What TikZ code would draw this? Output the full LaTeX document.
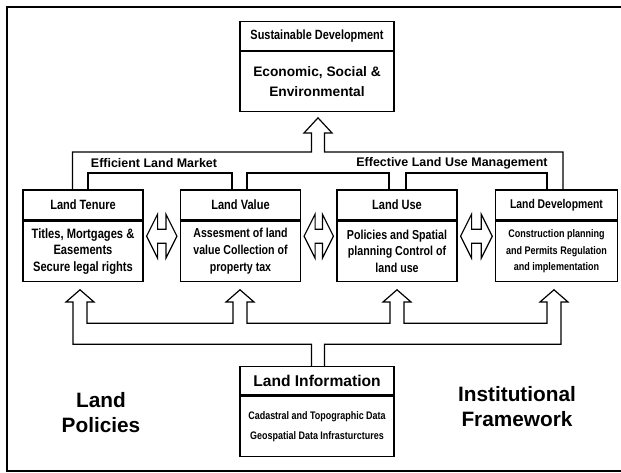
\documentclass[tikz,border=0pt]{standalone}
\usepackage{fontspec}
\setmainfont{Liberation Sans}
\newfontfamily\narrowfont{Liberation Sans}[FakeStretch=0.82]
\usepackage{tikz}
\usetikzlibrary{calc}
\usetikzlibrary{positioning}
\tikzset{
  head/.style={% Style for the title part of a box
      rectangle, line width=0.9pt,
      draw=black,
      inner sep=0pt,
      align=center,
      minimum width=90pt,
      minimum height=22.5pt,
      font=\narrowfont\bfseries\fontsize{10.1}{12}\selectfont,
  },
  body/.style={% Style for the text part of a box
      rectangle, line width=0.9pt,
      draw=black,
      inner sep=0pt,
      align=center,
      minimum width=90pt,
      minimum height=45pt,
      font=\narrowfont\bfseries\fontsize{10}{12.5}\selectfont,
  },
  fork/.style={line width=0.9pt, line join=miter},
  frame/.style={line width=1.8pt},
  label/.style={font=\bfseries\fontsize{9.35}{11}\selectfont},
  side/.style={align=center, font=\bfseries\fontsize{15.6}{18.75}\selectfont}
}
\def\landbox(#1)#2[#3][#4]#5#6{%
  \node[head, #3] (#2H) at (#1) {#5}; % title part
  \node[body, #4, below=0pt of #2H] (#2B) {#6}; % text part, hung under the title
}

\begin{document}
\begin{tikzpicture}[x=0.75pt, y=-0.75pt]
  \useasboundingbox (0,0) rectangle (621,473);
  \draw[frame] (625,7) -| (7,471) -- (625,471);

  \landbox(317,36.2){sust}[minimum width=115.5pt, minimum height=21.75pt, font=\narrowfont\bfseries\fontsize{10}{12}\selectfont][minimum width=115.5pt, minimum height=44.5pt, font=\bfseries\fontsize{10.3}{14.5}\selectfont]
    {Sustainable Development}{Economic, Social \&\\Environmental}

  \landbox(83,205){tenure}[][font=\narrowfont\bfseries\fontsize{10.2}{12.5}\selectfont]
    {Land Tenure}{Titles, Mortgages \&\\Easements\\Secure legal rights}
  \landbox(240.5,205){value}[][font=\narrowfont\bfseries\fontsize{9.7}{12.5}\selectfont]
    {Land Value}{Assesment of land\\value Collection of\\property tax}
  \landbox(397,205){use}[][font=\narrowfont\bfseries\fontsize{9.75}{12.5}\selectfont]
    {Land Use}{Policies and Spatial\\planning Control of\\land use}
  \landbox(556.5,205){dev}[minimum width=91pt, font=\narrowfont\bfseries\fontsize{9.5}{12}\selectfont][minimum width=91pt, font=\narrowfont\bfseries\fontsize{8.25}{12.5}\selectfont]
    {Land Development}{Construction planning\\and Permits Regulation\\and implementation}

  \landbox(317,380.85){info}[minimum width=115.5pt, minimum height=21.2pt, font=\bfseries\fontsize{11.7}{14}\selectfont][minimum width=115.5pt, font=\narrowfont\bfseries\fontsize{8.2}{15}\selectfont]
    {Land Information}{Cadastral and Topographic Data\\Geospatial Data Infrasturctures}

  % labels on the upper fork
  \node[label] (market) at (154,163) {Efficient Land Market};
  \node[label] (management) at (452,163) {Effective Land Use Management};
  \node[side] (policies) at (101,412.5) {Land\\Policies};
  \node[side] (framework) at (517,406.5) {Institutional\\Framework};

  % arrow tips
  \coordinate (tipS) at ($(sustB.south)+(1,6)$);
  \coordinate (tipT) at ($(tenureB.south)+(-3,8)$);
  \coordinate (tipV) at ($(valueB.south)+(-0.5,8)$);
  \coordinate (tipU) at ($(useB.south)+(0,8)$);
  \coordinate (tipD) at ($(devB.south)+(-2.5,8)$);

  % upper fork into Sustainable Development
  \draw[fork] (72.5,0 |- tenureH.north) |- (311.5,152) -- (311.5,133) -- (304,133)
    -- (tipS) -- (332,133) -- (324.5,133) |- (563,152) -- (563,0 |- devH.north);
  \draw[fork] (88,0 |- tenureH.north) |- (232,173) -- (232,0 |- valueH.north);
  \draw[fork] (247,0 |- valueH.north) |- (389,173) -- (389,0 |- useH.north);
  \draw[fork] (406,0 |- useH.north) |- (547,173) -- (547,0 |- devH.north);

  % lower fork out of Land Information
  \draw[fork] (311.5,0 |- infoH.north) |- (73,344.3)
    -- (73,302) -- (66,302) -- (tipT) -- (94,302) -- (87,302) |- (233,323.3)
    -- (233,302) -- (226,302) -- (tipV) -- (254,302) -- (247,302) |- (390,323.3)
    -- (390,302) -- (383,302) -- (tipU) -- (411,302) -- (404,302) |- (547,323.3)
    -- (547,302) -- (540,302) -- (tipD) -- (568,302) -- (561,302) |- (324.5,344.3)
    -- (324.5,0 |- infoH.north);

  % double arrows between neighbour boxes
  \foreach \a/\b in {tenure/value, value/use, use/dev} {
    \coordinate (l) at ($(\a B.east)+(3,-15)$);
    \coordinate (r) at ($(\b B.west)+(-3,-15)$);
    \draw[fork] (l) -- ++(11,-22) -- ++(0,15) -- ($(r)+(-11,-7)$) -- ++(0,-15) -- (r)
      -- ++(-11,22) -- ++(0,-15) -- ($(l)+(11,7)$) -- ++(0,15) -- cycle;
  }
\end{tikzpicture}
\end{document}
